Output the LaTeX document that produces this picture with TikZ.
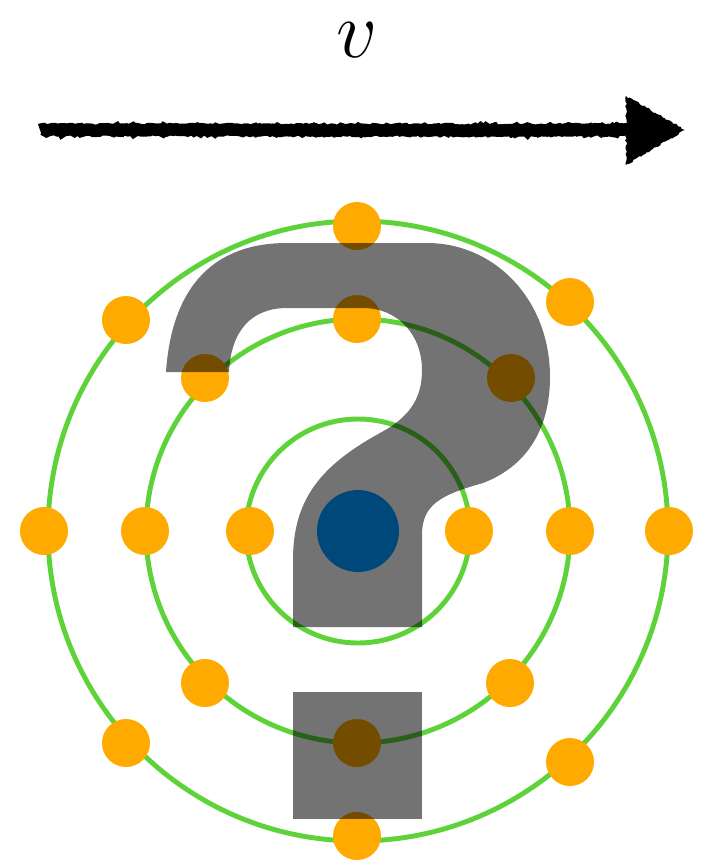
\documentclass[tikz,border=0pt]{standalone}
\usepackage{tikz}
\usetikzlibrary{arrows.meta,decorations.pathmorphing}
\definecolor{orbitc}{HTML}{5DD339}
\definecolor{dotc}{HTML}{FFAA00}
\definecolor{corec}{HTML}{00487A}

\begin{document}
\begin{tikzpicture}[x=0.02cm, y=-0.02cm,
  orbit/.style={draw=orbitc, line width=2.8pt},
  edot/.style={circle, fill=dotc, minimum size=0.96cm, inner sep=0pt},
  core/.style={circle, fill=corec, minimum size=1.64cm, inner sep=0pt},
  rough/.style={decorate, decoration={random steps, segment length=1.2pt, amplitude=0.55pt}},
  qmark/.style={fill=black, fill opacity=0.55}]

\useasboundingbox (0,0) rectangle (703,860);

% velocity arrow
\node[inner sep=0pt] (vlabel) at (357,40) {\scalebox{1.85}{\Huge $v$}};
\coordinate (arrstart) at (40,130);
\coordinate (shaftend) at (630,130);
\coordinate (arrtip) at (685,130);
\draw[rough, line width=0.25cm] (arrstart) -- (shaftend);
\fill[rough] (626,96) -- (arrtip) -- (626,165) -- cycle;

% orbits
\coordinate (c) at (358,531);
\draw[orbit] (c) circle (112*0.02cm);
\draw[orbit] (c) circle (212*0.02cm);
\draw[orbit] (c) circle (310*0.02cm);

% electrons
\foreach \name/\x/\y in {o1/357/226, o2/570/302, o3/669/531, o4/570/762,
    o5/357/836, o6/126/743, o7/44/531, o8/126/320,
    m1/357/319, m2/511/378, m3/570/531, m4/510/683,
    m5/357/743, m6/205/683, m7/145/531, m8/205/378,
    i1/469/531, i2/250/531}
  \node[edot] (\name) at (\x,\y) {};

% question mark
\path[qmark] (166,372) -- (229,372)
  .. controls (231,330) and (252,308) .. (287,308) -- (363,308)
  .. controls (398,308) and (422,335) .. (422,370)
  .. controls (422,400) and (408,418) .. (380,433)
  .. controls (320,466) and (293,500) .. (293,560) -- (293,627) -- (422,627) -- (422,535)
  .. controls (422,505) and (440,495) .. (483,483)
  .. controls (530,465) and (550,425) .. (550,377)
  .. controls (550,300) and (495,243) .. (427,243) -- (287,243)
  .. controls (215,243) and (172,285) .. (166,372) -- cycle;
\path[qmark] (293,692) rectangle (422,819);

\node[core] (nucleus) at (c) {};
\end{tikzpicture}
\end{document}
